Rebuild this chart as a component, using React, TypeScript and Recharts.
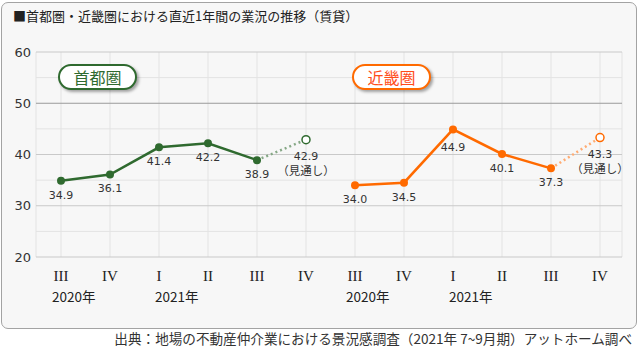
import React from 'react';
import { LineChart, Line, XAxis, YAxis, CartesianGrid, ReferenceLine, LabelList } from 'recharts';

const quarters = ['III', 'IV', 'I', 'II', 'III', 'IV', 'III', 'IV', 'I', 'II', 'III', 'IV'];
const yearLabels = ['2020年', '', '2021年', '', '', '', '2020年', '', '2021年', '', '', ''];
const shutoken = [34.9, 36.1, 41.4, 42.2, 38.9];
const shutokenForecast = 42.9;
const kinki = [34.0, 34.5, 44.9, 40.1, 37.3];
const kinkiForecast = 43.3;
const yTicks = [20, 30, 40, 50, 60];
const yMinor = [25, 35, 45, 55];

const GREEN = '#2f6a2f';
const GREEN_LIGHT = '#86a886';
const ORANGE = '#ff6a00';
const ORANGE_LIGHT = '#ffab72';

const data = quarters.map((q, i) => ({
  k: i,
  tokyo: i < 5 ? shutoken[i] : null,
  tokyoF: i === 4 ? shutoken[4] : i === 5 ? shutokenForecast : null,
  kinki: i >= 6 && i < 11 ? kinki[i - 6] : null,
  kinkiF: i === 10 ? kinki[4] : i === 11 ? kinkiForecast : null,
}));

const labelFont = 'DejaVu Sans, Noto Sans CJK JP, sans-serif';
const jpFont = 'Noto Sans CJK JP, sans-serif';

const XTick = (props: any) => {
  const { x, payload } = props;
  const i = payload.value as number;
  const q = quarters[i];
  const yr = yearLabels[i];
  return (
    <g>
      <text x={x} y={276} textAnchor="middle" dominantBaseline="central" fontFamily="Liberation Serif, serif" fontSize={15} fill="#222">
        {q}
      </text>
      {yr ? (
        <text x={x - (q === 'III' ? 9 : 4)} y={296} textAnchor="start" dominantBaseline="central" fontFamily={jpFont} fontSize={13.5} fill="#222">
          {yr}
        </text>
      ) : null}
    </g>
  );
};

const YTick = (props: any) => {
  const { y, payload } = props;
  return (
    <text x={31} y={y} textAnchor="end" dominantBaseline="central" fontFamily={labelFont} fontSize={13} fill="#333">
      {payload.value}
    </text>
  );
};

const makeMainLabel = (values: number[]) => (p: any) => {
  const { x, y, value, index } = p;
  if (value == null) return null;
  const local = values.indexOf(value);
  const prev = values[local - 1];
  const next = values[local + 1];
  const peak = prev != null && next != null && value - prev > 3 && value - next > 3;
  return (
    <text key={`l${index}`} x={x} y={y + (peak ? 22 : 18)} textAnchor="middle" fontFamily={labelFont} fontSize={11} fill="#333">
      {Number(value).toFixed(1)}
    </text>
  );
};

const makeForecastLabel = (lastIndex: number) => (p: any) => {
  const { x, y, value, index } = p;
  if (index !== lastIndex || value == null) return null;
  return (
    <g key={`f${index}`}>
      <text x={x} y={y + 20} textAnchor="middle" fontFamily={labelFont} fontSize={11} fill="#333">
        {Number(value).toFixed(1)}
      </text>
      <text x={x} y={y + 35} textAnchor="middle" fontFamily={jpFont} fontSize={11.5} fill="#333">
        （見通し）
      </text>
    </g>
  );
};

const makeForecastDot = (lastIndex: number, color: string) => (p: any) => {
  const { cx, cy, index } = p;
  if (index !== lastIndex || cy == null) return <g key={`d${index}`} />;
  return <circle key={`d${index}`} cx={cx} cy={cy} r={4} fill="#fff" stroke={color} strokeWidth={1.5} />;
};

const pillBase: React.CSSProperties = {
  position: 'absolute',
  top: 64,
  width: 79,
  height: 26,
  boxSizing: 'border-box',
  borderRadius: 14,
  background: '#fff',
  boxShadow: '2px 2px 3px rgba(0,0,0,0.35)',
  display: 'flex',
  alignItems: 'center',
  justifyContent: 'center',
  fontFamily: jpFont,
  fontSize: 16,
  zIndex: 2,
};

export default function App() {
  return (
    <div style={{ position: 'absolute', left: 0, top: 0, width: 640, height: 353, background: '#fff', overflow: 'hidden' }}>
      <div
        style={{
          position: 'absolute',
          left: 1,
          top: 2,
          width: 636,
          height: 327,
          boxSizing: 'border-box',
          border: '1px solid #a3a3a3',
          borderRadius: 7,
          background: '#f7f7f7',
        }}
      />
      <div
        style={{
          position: 'absolute',
          left: 13,
          top: 8,
          lineHeight: '16px',
          fontSize: 13,
          color: '#222',
          fontFamily: jpFont,
          whiteSpace: 'nowrap',
        }}
      >
        ■首都圏・近畿圏における直近1年間の業況の推移（賃貸）
      </div>
      <div style={{ position: 'absolute', left: 0, top: 0, zIndex: 1 }}>
        <LineChart width={640} height={353} data={data} margin={{ top: 52, right: 18, bottom: 66, left: 0 }}>
          <CartesianGrid horizontal={false} vertical stroke="#e3e3e3" strokeWidth={1} />
          {yMinor.map((v) => (
            <ReferenceLine key={`m${v}`} y={v} stroke="#e3e3e3" strokeWidth={1} />
          ))}
          {yTicks.map((v) => (
            <ReferenceLine key={`t${v}`} y={v} stroke={v === 50 ? '#9a9a9a' : '#c9c9c9'} strokeWidth={1} />
          ))}
          <XAxis
            dataKey="k"
            type="category"
            axisLine={false}
            tickLine={false}
            height={30}
            interval={0}
            padding={{ left: 25, right: 22 }}
            tick={<XTick />}
          />
          <YAxis
            domain={[20, 60]}
            ticks={yTicks}
            width={36}
            axisLine={false}
            tickLine={false}
            tick={<YTick />}
          />
          <Line
            dataKey="tokyoF"
            stroke={GREEN_LIGHT}
            strokeWidth={2.5}
            strokeDasharray="2 3"
            dot={makeForecastDot(5, GREEN)}
            activeDot={false}
            isAnimationActive={false}
          >
            <LabelList dataKey="tokyoF" content={makeForecastLabel(5)} />
          </Line>
          <Line
            dataKey="kinkiF"
            stroke={ORANGE_LIGHT}
            strokeWidth={2.5}
            strokeDasharray="2 3"
            dot={makeForecastDot(11, ORANGE)}
            activeDot={false}
            isAnimationActive={false}
          >
            <LabelList dataKey="kinkiF" content={makeForecastLabel(11)} />
          </Line>
          <Line
            dataKey="tokyo"
            stroke={GREEN}
            strokeWidth={2.5}
            dot={{ r: 4, fill: GREEN, stroke: GREEN, strokeWidth: 0 }}
            activeDot={false}
            isAnimationActive={false}
          >
            <LabelList dataKey="tokyo" content={makeMainLabel(shutoken)} />
          </Line>
          <Line
            dataKey="kinki"
            stroke={ORANGE}
            strokeWidth={2.5}
            dot={{ r: 4, fill: ORANGE, stroke: ORANGE, strokeWidth: 0 }}
            activeDot={false}
            isAnimationActive={false}
          >
            <LabelList dataKey="kinki" content={makeMainLabel(kinki)} />
          </Line>
        </LineChart>
      </div>
      <div style={{ ...pillBase, left: 58, border: `2.5px solid ${GREEN}`, color: GREEN }}>首都圏</div>
      <div style={{ ...pillBase, left: 352, border: `2.5px solid ${ORANGE}`, color: '#ff4d1a' }}>近畿圏</div>
      <div
        style={{
          position: 'absolute',
          right: 8,
          top: 330,
          lineHeight: '16px',
          fontSize: 13.6,
          color: '#333',
          fontFamily: jpFont,
          whiteSpace: 'nowrap',
        }}
      >
        出典：地場の不動産仲介業における景況感調査（2021年 7~9月期）アットホーム調べ
      </div>
    </div>
  );
}
